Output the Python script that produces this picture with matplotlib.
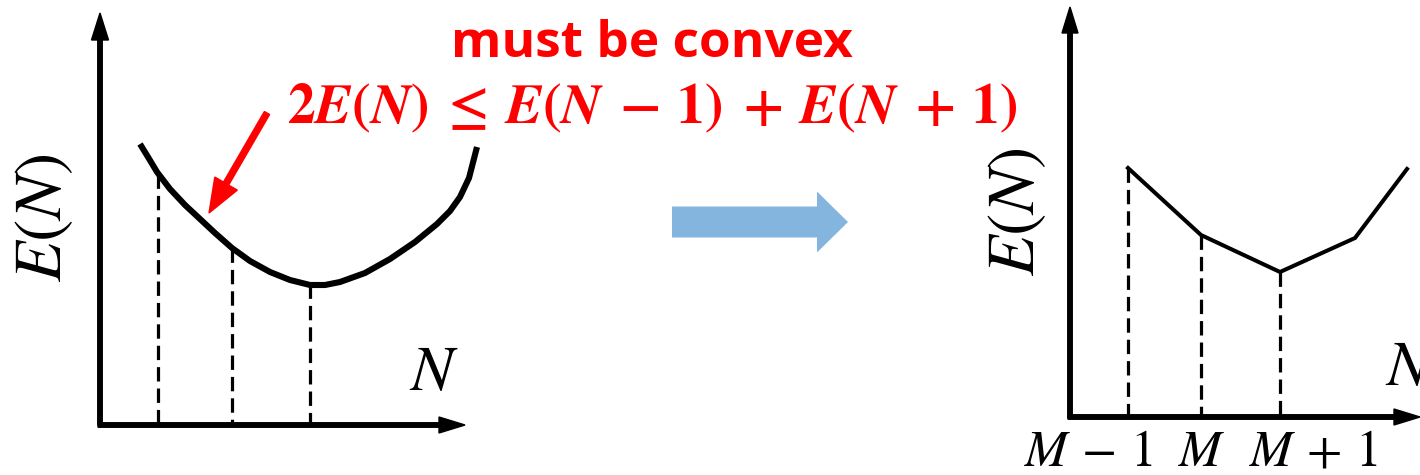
import matplotlib
matplotlib.use("Agg")
import matplotlib.pyplot as plt

plt.rcParams['mathtext.fontset'] = 'stix'

# left panel: smooth convex curve E(N)
curve_x = [140, 148, 157, 170, 185, 200, 215, 232, 250, 270, 290, 310, 325, 340, 365, 390, 415, 437, 450, 460, 469, 477]
curve_y = [144, 157, 172, 189, 205, 219, 233, 248, 261, 272, 280, 285, 285, 282, 273, 259, 242, 224, 211, 197, 178, 147]
left_dash_x = [158, 232, 310]
left_dash_top = [174, 248, 284]

# right panel: piecewise-linear E(N)
poly_x = [1128, 1201, 1280, 1355, 1407]
poly_y = [168, 235, 272, 238, 169]
right_dash_x = [1128, 1201, 1280]
right_dash_top = [168, 235, 272]
tick_labels = [r'$M\,-\,1$', r'$M$', r'$M\,+\,1$']
tick_x = [1088, 1202, 1313]

title = 'must be convex'
formula = r'$\boldsymbol{2E(N)\;\leq\;E(N\;-\;1)\;+\;E(N\;+\;1)}$'

fig = plt.figure(figsize=(14.2, 4.75), dpi=100)
ax = fig.add_axes([0, 0, 1, 1])
ax.set_xlim(0, 1420)
ax.set_ylim(475, 0)
ax.axis('off')

red = '#ff0000'
blue = '#84b5de'

# ---- left panel ----
ax.arrow(100, 425, 0, -412, width=4.5, head_width=17, head_length=27,
         length_includes_head=True, color='black')
ax.arrow(98, 425, 367, 0, width=4.5, head_width=16, head_length=26,
         length_includes_head=True, color='black')
ax.plot(curve_x, curve_y, color='black', lw=4.4, solid_capstyle='butt', solid_joinstyle='round')
for x, top in zip(left_dash_x, left_dash_top):
    ax.plot([x, x], [top, 423], color='black', lw=2.3, linestyle=(0, (4.5, 2.2)))
ax.text(42, 218, r'$E(N)$', fontsize=48, rotation=90, ha='center', va='center')
ax.text(434, 372, r'$N$', fontsize=46, ha='center', va='center')

# red annotation
ax.arrow(267, 113, -58, 100, width=6, head_width=26, head_length=34,
         length_includes_head=True, color=red)
ax.text(652, 57, title, fontsize=37, color=red, fontweight='bold',
        family='Open Sans', ha='center', va='baseline')
ax.text(652, 123, formula, fontsize=40, color=red, ha='center', va='baseline')

# middle transition arrow
ax.arrow(672, 222, 176, 0, width=31, head_width=61, head_length=31,
         length_includes_head=True, color=blue, lw=0)

# ---- right panel ----
ax.arrow(1070, 418, 0, -411, width=4.5, head_width=16, head_length=26,
         length_includes_head=True, color='black')
ax.arrow(1068, 417, 352, 0, width=4.5, head_width=16, head_length=26,
         length_includes_head=True, color='black')
ax.plot(poly_x, poly_y, color='black', lw=2.9, solid_joinstyle='miter')
for x, top in zip(right_dash_x, right_dash_top):
    ax.plot([x, x], [top, 417], color='black', lw=2.3, linestyle=(0, (4.5, 2.2)))
ax.text(1015, 212, r'$E(N)$', fontsize=48, rotation=90, ha='center', va='center')
ax.text(1385, 367, r'$N$', fontsize=46, ha='left', va='center')
for x, lab in zip(tick_x, tick_labels):
    ax.text(x, 466, lab, fontsize=37, ha='center', va='baseline')

fig.savefig('out.png', dpi=100)
